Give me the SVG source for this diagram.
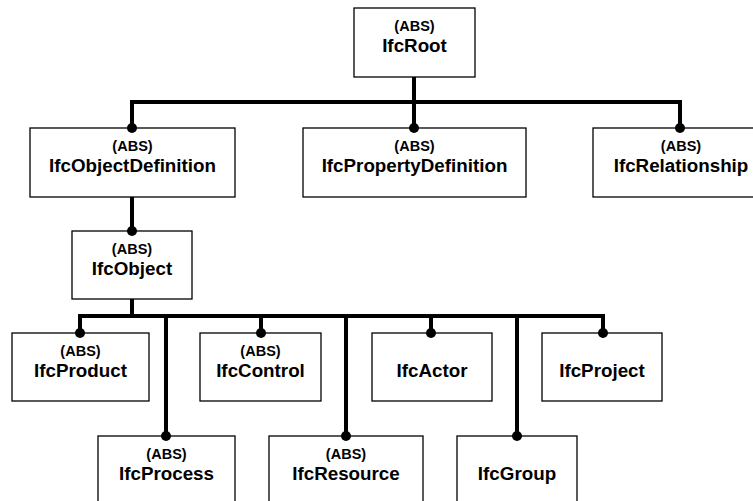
<svg xmlns="http://www.w3.org/2000/svg" width="753" height="501" viewBox="0 0 753 501">
<style>
.box{fill:#fff;stroke:#000;stroke-width:1.3}
.abs{font-family:"Liberation Sans",Arial,sans-serif;font-weight:bold;font-size:14.5px;text-anchor:middle;fill:#000}
.name{font-family:"Liberation Sans",Arial,sans-serif;font-weight:bold;font-size:18.8px;text-anchor:middle;fill:#000}
.conn{fill:none;stroke:#000;stroke-width:4;stroke-linejoin:miter;stroke-linecap:butt}
.dot{fill:#000}
</style>
<rect width="753" height="501" fill="#fff"/>
<g id="IfcRoot"><rect class="box" x="354" y="8" width="121" height="69"/><text class="abs" x="414.5" y="31">(ABS)</text><text class="name" x="414.5" y="52">IfcRoot</text></g>
<g id="IfcObjectDefinition"><rect class="box" x="30" y="128" width="205" height="69"/><text class="abs" x="132.5" y="151">(ABS)</text><text class="name" x="132.5" y="172">IfcObjectDefinition</text></g>
<g id="IfcPropertyDefinition"><rect class="box" x="303" y="128" width="223" height="69"/><text class="abs" x="414.5" y="151">(ABS)</text><text class="name" x="414.5" y="172">IfcPropertyDefinition</text></g>
<g id="IfcRelationship"><rect class="box" x="593" y="128" width="175" height="69"/><text class="abs" x="681" y="151">(ABS)</text><text class="name" x="681" y="172">IfcRelationship</text></g>
<g id="IfcObject"><rect class="box" x="72" y="231" width="120" height="68"/><text class="abs" x="132" y="254">(ABS)</text><text class="name" x="132" y="275">IfcObject</text></g>
<g id="IfcProduct"><rect class="box" x="12" y="333" width="137" height="68"/><text class="abs" x="80.5" y="356">(ABS)</text><text class="name" x="80.5" y="377">IfcProduct</text></g>
<g id="IfcControl"><rect class="box" x="200" y="333" width="121" height="68"/><text class="abs" x="260.5" y="356">(ABS)</text><text class="name" x="260.5" y="377">IfcControl</text></g>
<g id="IfcActor"><rect class="box" x="372" y="333" width="120" height="68"/><text class="name" x="432" y="377">IfcActor</text></g>
<g id="IfcProject"><rect class="box" x="542" y="333" width="120" height="68"/><text class="name" x="602" y="377">IfcProject</text></g>
<g id="IfcProcess"><rect class="box" x="98" y="436" width="137" height="70"/><text class="abs" x="166.5" y="459">(ABS)</text><text class="name" x="166.5" y="480">IfcProcess</text></g>
<g id="IfcResource"><rect class="box" x="269" y="436" width="154" height="70"/><text class="abs" x="346" y="459">(ABS)</text><text class="name" x="346" y="480">IfcResource</text></g>
<g id="IfcGroup"><rect class="box" x="457" y="436" width="120" height="70"/><text class="name" x="517" y="480">IfcGroup</text></g>
<g id="connectors">
<path class="conn" d="M414,77 V102 M132,128 V102 H680 V128 M414,102 V128"/>
<path class="conn" d="M132,197 V231"/>
<path class="conn" d="M132,299 V316 M80,333 V316 H603 V333 M166,316 V436 M261,316 V333 M346,316 V436 M431,316 V333 M517,316 V436"/>
<circle class="dot" cx="132" cy="128" r="5"/>
<circle class="dot" cx="414" cy="128" r="5"/>
<circle class="dot" cx="680" cy="128" r="5"/>
<circle class="dot" cx="132" cy="231" r="5"/>
<circle class="dot" cx="80" cy="333" r="5"/>
<circle class="dot" cx="261" cy="333" r="5"/>
<circle class="dot" cx="431" cy="333" r="5"/>
<circle class="dot" cx="603" cy="333" r="5"/>
<circle class="dot" cx="166" cy="436" r="5"/>
<circle class="dot" cx="346" cy="436" r="5"/>
<circle class="dot" cx="517" cy="436" r="5"/>
</g>
</svg>
